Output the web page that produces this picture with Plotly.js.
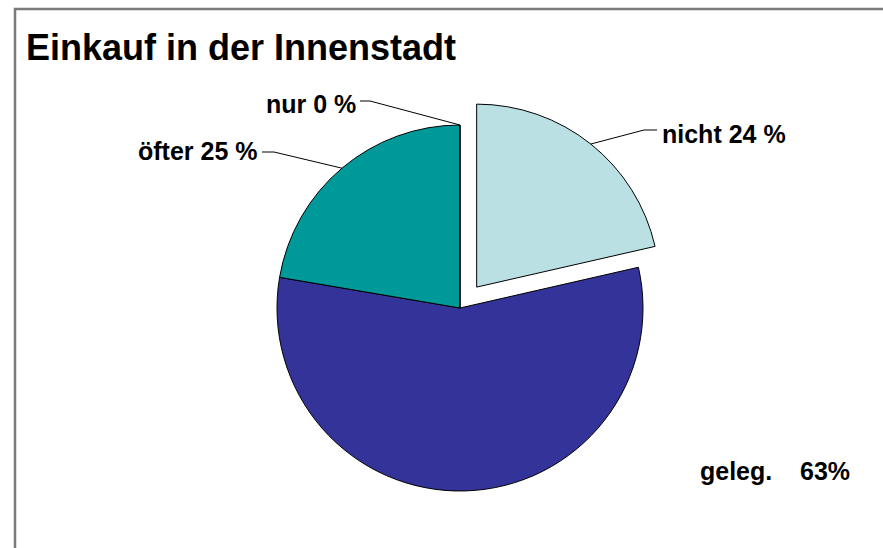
<!DOCTYPE html>
<html>
<head>
<meta charset="utf-8">
<script src="https://cdn.plot.ly/plotly-3.0.1.min.js"></script>
<style>html,body{margin:0;padding:0;background:#fff}#chart{width:883px;height:548px}</style>
</head>
<body>
<div id="chart"></div>
<script>
// ---- data ----
const categories = ['nicht', 'geleg.', 'öfter', 'nur'];
const values = [24, 63, 25, 0];
const sepBefore = [' ', '\u00a0\u00a0\u00a0 ', ' ', ' '];
const sepAfter = [' %', '%', ' %', ' %'];
const pulls = [0.146, 0, 0, 0];
const colors = ['#BBE0E3', '#333399', '#009999', '#FFFFFF'];
const chartTitle = 'Einkauf in der Innenstadt';

// ---- layout geometry (pixels) ----
const W = 883, H = 548;
const cx = 460, cy = 308, r = 183;
const maxPull = Math.max(...pulls);
const half = r * (1 + maxPull);
const px = x => x / W;
const py = y => 1 - y / H;

// label placement and leader-line points on the text side
const labelPlace = [
  {x: 660, y: 134, xa: 'left', lead: [[657, 130], [644, 130]]},
  {x: 698, y: 471, xa: 'left', lead: null},
  {x: 259, y: 151, xa: 'right', lead: [[262, 152], [274, 152]]},
  {x: 358, y: 104, xa: 'right', lead: [[360, 101], [370, 101]]}
];

const total = values.reduce((a, b) => a + b, 0);
let cum = 0;
const annotations = [];
const shapes = [];
values.forEach((v, i) => {
  const midFrac = (cum + v / 2) / total;
  cum += v;
  const ang = midFrac * 2 * Math.PI; // clockwise from 12 o'clock
  const pr = pulls[i] * r;
  const ax = cx + (pr + r) * Math.sin(ang);
  const ay = cy - (pr + r) * Math.cos(ang);
  const p = labelPlace[i];
  annotations.push({
    xref: 'paper', yref: 'paper', x: px(p.x), y: py(p.y),
    xanchor: p.xa, yanchor: 'middle', showarrow: false,
    text: '<b>' + categories[i] + sepBefore[i] + values[i] + sepAfter[i] + '</b>',
    font: {family: 'Liberation Sans, Arial, sans-serif', size: 25, color: '#000'}
  });
  if (p.lead) {
    const pts = p.lead.concat([[ax, ay]]);
    const path = 'M ' + pts.map(q => px(q[0]) + ',' + py(q[1])).join(' L ');
    shapes.push({type: 'path', xref: 'paper', yref: 'paper', path: path,
      line: {color: '#000', width: 1}});
  }
});

// frame
shapes.push({type: 'path', xref: 'paper', yref: 'paper',
  path: 'M ' + px(15) + ',' + py(560) + ' L ' + px(15) + ',' + py(9) + ' L ' + px(890) + ',' + py(9),
  line: {color: '#7a7a7a', width: 2.5}});

const trace = {
  type: 'pie',
  labels: categories,
  values: values,
  pull: pulls,
  sort: false,
  direction: 'clockwise',
  rotation: 0,
  textinfo: 'none',
  hoverinfo: 'label+value',
  marker: {colors: colors, line: {color: '#000', width: 1}},
  domain: {x: [px(cx - half), px(cx + half)], y: [py(cy + half), py(cy - half)]},
  showlegend: false
};

const layout = {
  width: W, height: H,
  margin: {l: 0, r: 0, t: 0, b: 0},
  paper_bgcolor: '#fff',
  title: {
    text: '<b>' + chartTitle + '</b>',
    x: px(26), xanchor: 'left', xref: 'paper',
    y: py(47), yanchor: 'middle', yref: 'paper',
    font: {family: 'Liberation Sans, Arial, sans-serif', size: 36, color: '#000'}
  },
  font: {family: 'Liberation Sans, Arial, sans-serif', color: '#000'},
  annotations: annotations,
  shapes: shapes,
  showlegend: false
};

Plotly.newPlot('chart', [trace], layout, {displayModeBar: false, staticPlot: true});
</script>
</body>
</html>
